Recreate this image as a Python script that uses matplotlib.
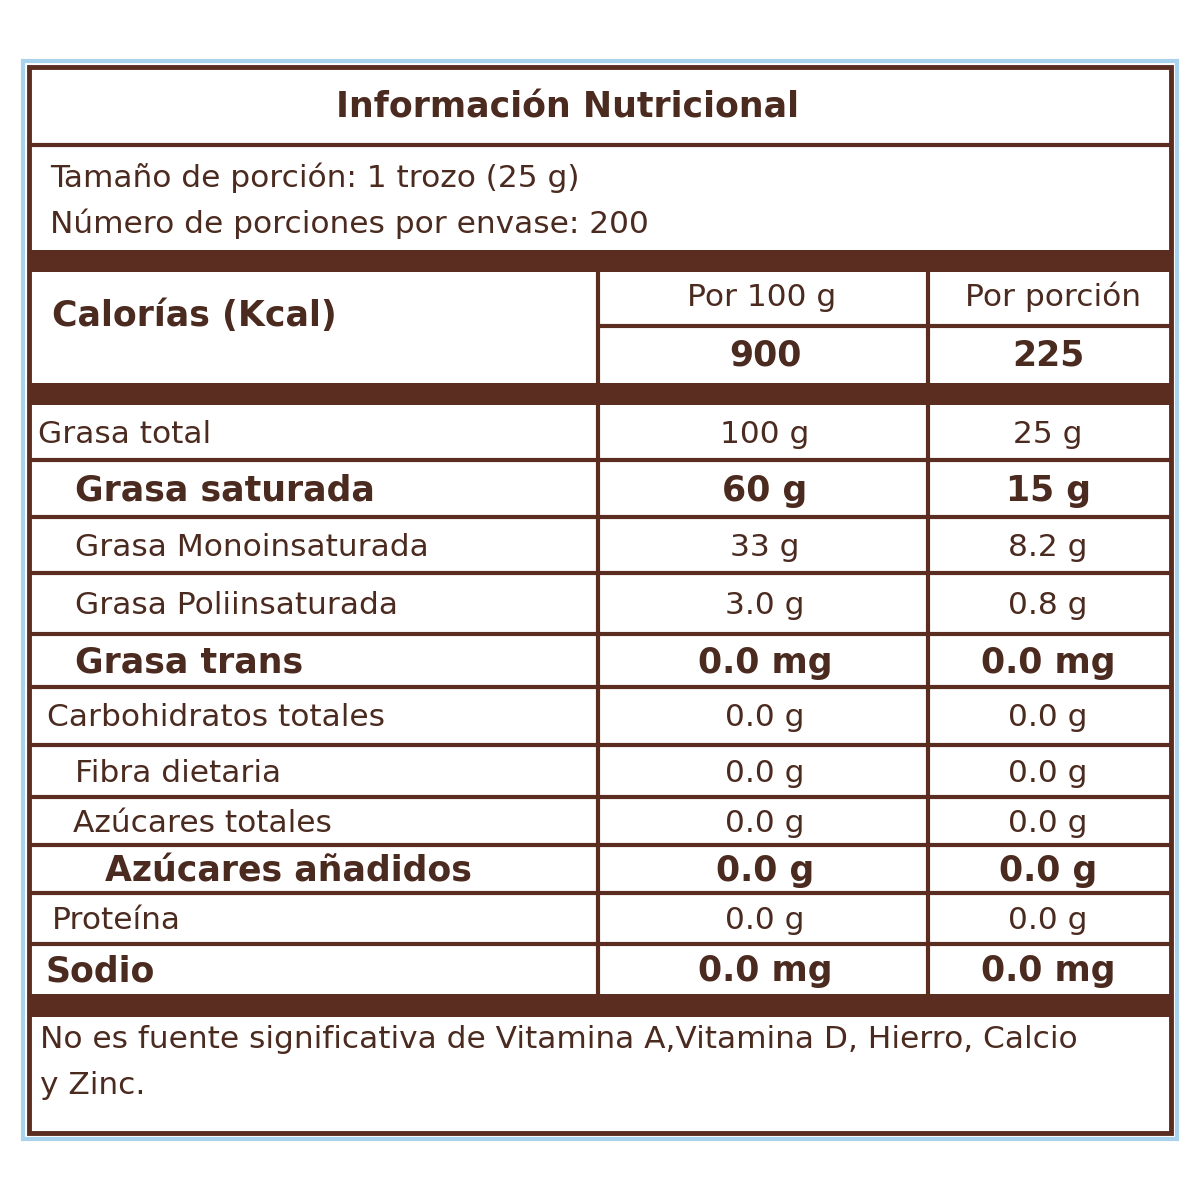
import matplotlib
matplotlib.use("Agg")
import matplotlib.pyplot as plt
from matplotlib.patches import Rectangle

title = "Información Nutricional"
serving = ["Tamaño de porción: 1 trozo (25 g)", "Número de porciones por envase: 200"]
col_headers = ["Por 100 g", "Por porción"]
calories_label = "Calorías (Kcal)"
calories = ["900", "225"]
labels = ["Grasa total", "Grasa saturada", "Grasa Monoinsaturada", "Grasa Poliinsaturada",
          "Grasa trans", "Carbohidratos totales", "Fibra dietaria", "Azúcares totales",
          "Azúcares añadidos", "Proteína", "Sodio"]
per100 = ["100 g", "60 g", "33 g", "3.0 g", "0.0 mg", "0.0 g", "0.0 g", "0.0 g", "0.0 g", "0.0 g", "0.0 mg"]
perportion = ["25 g", "15 g", "8.2 g", "0.8 g", "0.0 mg", "0.0 g", "0.0 g", "0.0 g", "0.0 g", "0.0 g", "0.0 mg"]
bold = [False, True, False, False, True, False, False, False, True, False, True]
indent = [38, 75, 75, 75, 75, 47, 75, 73, 105, 52, 45]
footnote = ["No es fuente significativa de Vitamina A,Vitamina D, Hierro, Calcio", "y Zinc."]

BR = "#5b2d20"
TX = "#4b2a1f"
row_edges = [405, 460, 517, 573, 634, 687, 745, 797, 845, 893, 944, 994]

plt.rcParams['font.family'] = ['DejaVu Sans']
fig = plt.figure(figsize=(12, 12), dpi=100)
ax = fig.add_axes([0, 0, 1, 1])
ax.set_xlim(0, 1200); ax.set_ylim(1200, 0); ax.axis("off")

ax.add_patch(Rectangle((23, 61), 1154, 1078, fill=False, ec="#a9d3ec", lw=3))
ax.add_patch(Rectangle((29, 67), 1142, 1066, fill=False, ec=BR, lw=3.5))
def hl(y, x0=29, x1=1171, lw=3):
    ax.plot([x0, x1], [y, y], color=BR, lw=lw, solid_capstyle="butt")
def band(y0, y1):
    ax.add_patch(Rectangle((29, y0), 1142, y1 - y0, color=BR, lw=0))

R = 22.5
B = 25
ax.text(568, 107, title, ha="center", va="center", fontsize=25, weight="bold", color=TX)
hl(145)
ax.text(50, 178, serving[0], va="center", fontsize=R, color=TX)
ax.text(50, 224, serving[1], va="center", fontsize=R, color=TX)
band(250, 272)
ax.text(52, 316, calories_label, va="center", fontsize=B, weight="bold", color=TX)
ax.text(762, 297, col_headers[0], ha="center", va="center", fontsize=R, color=TX)
ax.text(1053, 297, col_headers[1], ha="center", va="center", fontsize=R, color=TX)
hl(326, 598)
ax.text(765, 356, calories[0], ha="center", va="center", fontsize=B, weight="bold", color=TX)
ax.text(1048, 356, calories[1], ha="center", va="center", fontsize=B, weight="bold", color=TX)
band(383, 405)
for x in (598, 928):
    ax.plot([x, x], [272, 383], color=BR, lw=3)
    ax.plot([x, x], [405, 994], color=BR, lw=3)
for i, lab in enumerate(labels):
    y0, y1 = row_edges[i], row_edges[i + 1]
    yc = (y0 + y1) / 2 + 2
    fs = B if bold[i] else R
    w = "bold" if bold[i] else "normal"
    ax.text(indent[i], yc, lab, va="center", fontsize=fs, weight=w, color=TX)
    ax.text(765, yc, per100[i], ha="center", va="center", fontsize=fs, weight=w, color=TX)
    ax.text(1048, yc, perportion[i], ha="center", va="center", fontsize=fs, weight=w, color=TX)
    if i < len(labels) - 1:
        hl(y1)
band(994, 1017)
ax.text(40, 1040, footnote[0], va="center", fontsize=R, color=TX)
ax.text(40, 1085, footnote[1], va="center", fontsize=R, color=TX)
fig.savefig("out.png", dpi=100, facecolor="white")
